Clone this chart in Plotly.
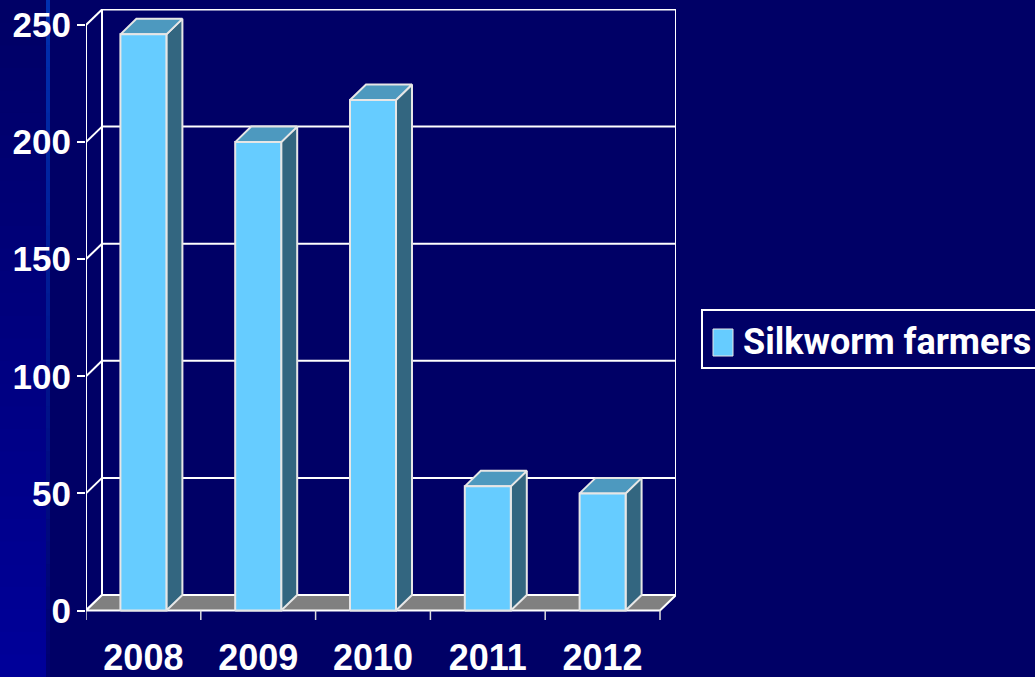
import plotly.graph_objects as go

# ---------------- data ----------------
years = ["2008", "2009", "2010", "2011", "2012"]
farmers = [246, 200, 218, 53, 50]
y_ticks = [0, 50, 100, 150, 200, 250]
series_name = "Silkworm farmers"

# ---------------- geometry (pixels) ----------------
W, H = 1035, 677
PL, PR, PT, PB = 86, 676, 9, 620      # plot area in page pixels
Y0_PX, YTOP_PX = 610.5, 25            # front axis: value 0 and top tick
DEPTH_X_PX, DEPTH_Y_PX = 16, 15.5     # 3-D depth offset
BAR_HALF_PX = 23

n = len(years)
ppu = (PR - PL - DEPTH_X_PX) / n
dx = DEPTH_X_PX / ppu
ppv = (Y0_PX - YTOP_PX) / y_ticks[-1]
dy = DEPTH_Y_PX / ppv
ymin = -(PB - Y0_PX) / ppv
ymax = (Y0_PX - PT) / ppv
xL, xR = -0.5, n - 0.5
bw = BAR_HALF_PX / ppu
top = y_ticks[-1]

BG = "#000066"
WHITE = "#FFFFFF"
FRONT = "#66CCFF"
SIDE = "#336680"
TOPC = "#4D99BF"
FLOOR = "#808080"
EDGE = "#E6E6E6"


def px2paper_x(px):
    return (px - PL) / (PR - PL)


def px2paper_y(py):
    return (PB - py) / (PB - PT)


fig = go.Figure()

# back wall, gridlines, left wall lines
wx, wy = [], []
wx += [xL + dx, xL + dx, xR + dx, xR + dx, None]
wy += [dy, top + dy, top + dy, dy, None]
for v in y_ticks:
    if 0 < v < top:
        wx += [xL + dx, xR + dx, None]
        wy += [v + dy, v + dy, None]
    wx += [xL, xL + dx, None]
    wy += [v, v + dy, None]
wx += [xL, xL, None]
wy += [0, top, None]
fig.add_trace(go.Scatter(x=wx, y=wy, mode="lines", line=dict(color=WHITE, width=2),
                         hoverinfo="skip", showlegend=False))

# floor
fig.add_trace(go.Scatter(x=[xL, xR, xR + dx, xL + dx, xL], y=[0, 0, dy, dy, 0],
                         mode="lines", fill="toself", fillcolor=FLOOR,
                         line=dict(color=WHITE, width=2), hoverinfo="skip", showlegend=False))

# category boundary ticks below floor
tx, ty = [], []
for i in range(n + 1):
    b = xL + i
    tx += [b, b, None]
    ty += [0, ymin, None]
fig.add_trace(go.Scatter(x=tx, y=ty, mode="lines", line=dict(color="#DDDDDD", width=1.5),
                         hoverinfo="skip", showlegend=False))

# bars
sx, sy, tpx, tpy, fx, fy = [], [], [], [], [], []
for i, v in enumerate(farmers):
    c = i
    sx += [c + bw, c + bw + dx, c + bw + dx, c + bw, c + bw, None]
    sy += [0, dy, v + dy, v, 0, None]
    tpx += [c - bw, c + bw, c + bw + dx, c - bw + dx, c - bw, None]
    tpy += [v, v, v + dy, v + dy, v, None]
    fx += [c - bw, c + bw, c + bw, c - bw, c - bw, None]
    fy += [0, 0, v, v, 0, None]

fig.add_trace(go.Scatter(x=sx, y=sy, mode="lines", fill="toself", fillcolor=SIDE,
                         line=dict(color=EDGE, width=2), hoverinfo="skip", showlegend=False))
fig.add_trace(go.Scatter(x=tpx, y=tpy, mode="lines", fill="toself", fillcolor=TOPC,
                         line=dict(color=EDGE, width=2), hoverinfo="skip", showlegend=False))
fig.add_trace(go.Scatter(x=fx, y=fy, mode="lines", fill="toself", fillcolor=FRONT,
                         line=dict(color=EDGE, width=2), name=series_name,
                         hoverinfo="skip", showlegend=False))

# ---------------- background decoration ----------------
shapes = []
steps = 30
for k in range(steps):
    t = k / (steps - 1)
    y0 = H * k / steps
    y1 = H * (k + 1) / steps + 1
    b = int(0x66 + (0x99 - 0x66) * t)
    shapes.append(dict(type="rect", xref="paper", yref="paper", layer="below",
                       x0=px2paper_x(0), x1=px2paper_x(46),
                       y0=px2paper_y(y1), y1=px2paper_y(y0),
                       fillcolor=f"rgb(0,0,{b})", line=dict(width=0)))
    g = int(0x30 * (1 - t))
    b2 = int(0xB0 + (0x70 - 0xB0) * t)
    shapes.append(dict(type="rect", xref="paper", yref="paper", layer="below",
                       x0=px2paper_x(46), x1=px2paper_x(50),
                       y0=px2paper_y(y1), y1=px2paper_y(y0),
                       fillcolor=f"rgb(0,{g},{b2})", line=dict(width=0)))

# legend box (manual)
shapes.append(dict(type="rect", xref="paper", yref="paper",
                   x0=px2paper_x(702), x1=px2paper_x(1045),
                   y0=px2paper_y(368), y1=px2paper_y(310),
                   fillcolor=BG, line=dict(color=WHITE, width=2)))
shapes.append(dict(type="rect", xref="paper", yref="paper",
                   x0=px2paper_x(713), x1=px2paper_x(733),
                   y0=px2paper_y(356), y1=px2paper_y(329),
                   fillcolor=FRONT, line=dict(color=EDGE, width=1)))

annotations = [dict(xref="paper", yref="paper", x=px2paper_x(741), y=px2paper_y(342),
                    xanchor="left", yanchor="middle", showarrow=False,
                    text=series_name,
                    font=dict(family="Roboto", size=36, color=WHITE, weight="bold"))]

fig.update_layout(
    width=W, height=H,
    margin=dict(l=PL, r=W - PR, t=PT, b=H - PB, autoexpand=False),
    paper_bgcolor=BG, plot_bgcolor=BG,
    showlegend=False,
    shapes=shapes, annotations=annotations,
    xaxis=dict(range=[xL, xR + dx], tickvals=list(range(n)), ticktext=years,
               ticks="", showgrid=False, zeroline=False, showline=False,
               tickfont=dict(family="Liberation Sans", size=36, color=WHITE, weight="bold"),
               ticklabelstandoff=13, fixedrange=True),
    yaxis=dict(range=[ymin, ymax], tickvals=y_ticks, ticktext=[str(v) for v in y_ticks],
               ticks="outside", ticklen=8, tickwidth=2, tickcolor=WHITE,
               showgrid=False, zeroline=False, showline=False,
               tickfont=dict(family="Liberation Sans", size=35, color=WHITE, weight="bold"),
               ticklabelstandoff=-1, fixedrange=True),
)

fig.write_html("out.html")
